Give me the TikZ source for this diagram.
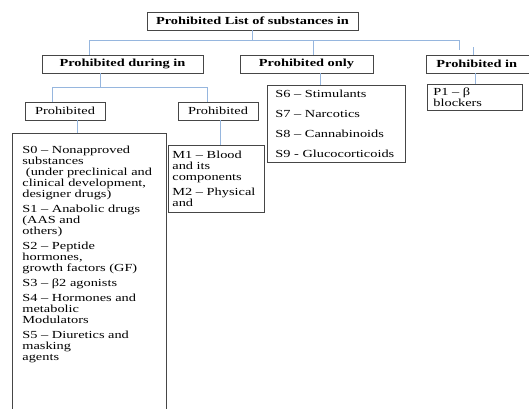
\documentclass[tikz,border=0pt]{standalone}
\usepackage{fontspec}
\setmainfont[FakeStretch=1.33]{Liberation Serif}
\usetikzlibrary{positioning}
\definecolor{boxgray}{RGB}{70,70,70}
\definecolor{linkblue}{RGB}{150,182,222}
\tikzset{
  box/.style={draw=boxgray, line width=0.8pt, inner sep=0pt, minimum height=18pt},
  head/.style={box, font=\fontsize{10.8}{11}\selectfont\bfseries},
  sub/.style={box, font=\fontsize{10.8}{11}\selectfont},
  list/.style={draw=boxgray, line width=0.8pt, anchor=north west, align=left,
    font=\fontsize{10.8}{11}\selectfont, inner xsep=6pt, inner ysep=0pt},
  link/.style={draw=linkblue, line width=0.9pt}
}

\begin{document}
\begin{tikzpicture}[x=1pt,y=-1pt]
\useasboundingbox (0,0) rectangle (529,408);
% headings
\node[head, minimum width=211pt] (top) at (252.5,21) {Prohibited List of substances in};
\node[head, minimum width=161pt] (during) at (122.5,64) {Prohibited during in};
\node[head, minimum width=133pt] (only) at (306.5,64) {Prohibited only};
\node[head, anchor=west, text width=100pt, align=left, inner xsep=10pt] (in) at (426,64) {Prohibited in};
\node[sub, minimum width=80pt] (pleft) at (65,111) {Prohibited};
\node[sub, minimum width=80pt] (pright) at (218,111) {Prohibited};
% lists
\node[list, inner xsep=10pt, inner ysep=13pt] (s0) at (12,133) {\parbox[t][280pt][t]{134pt}{\raggedright
S0 – Nonapproved\\
substances\\
\ (under preclinical and\\
clinical development,\\
designer drugs)\\[4pt]
S1 – Anabolic drugs\\
(AAS and\\
others)\\[4pt]
S2 – Peptide\\
hormones,\\
growth factors (GF)\\[4pt]
S3 – β2 agonists\\[4pt]
S4 – Hormones and\\
metabolic\\
Modulators\\[4pt]
S5 – Diuretics and\\
masking\\
agents}};
\node[list, inner xsep=4pt, text width=88pt, minimum height=67pt] (m) at (168,145) {M1 – Blood\\
and its\\
components\\[4pt]
M2 – Physical\\
and};
\node[list, inner xsep=8pt, text width=122pt, minimum height=77pt] (s6) at (267,85) {S6 – Stimulants\\[9pt]
S7 – Narcotics\\[9pt]
S8 – Cannabinoids\\[9pt]
S9 - Glucocorticoids};
\node[list, inner xsep=6pt, text width=83pt, minimum height=26pt] (p1) at (427,84) {P1 – β\\
blockers};
% connectors
\coordinate (bar1l) at (89,40);
\coordinate (bar1r) at (459,40);
\coordinate (gapend) at (459,50);
\coordinate (stub) at (473,47);
\draw[link] (top.south) -- (top.south |- bar1l);
\draw[link] (bar1l) -- (bar1r);
\draw[link] (bar1l) -- (bar1l |- during.north);
\draw[link] ([xshift=7pt]only.north |- bar1l) -- ([xshift=7pt]only.north);
\draw[link] (bar1r) -- (gapend);
\draw[link] (stub) -- (stub |- in.north);
\coordinate (bar2l) at (52,87);
\coordinate (bar2r) at (207,87);
\draw[link] ([xshift=-22.5pt]during.south) -- ([xshift=-22.5pt]during.south |- bar2l);
\draw[link] (bar2l) -- (bar2r);
\draw[link] (bar2l) -- (bar2l |- pleft.north);
\draw[link] (bar2r) -- (bar2r |- pright.north);
\draw[link] ([xshift=12pt]pleft.south) -- ([xshift=12pt]pleft.south |- s0.north);
\draw[link] ([xshift=2pt]pright.south) -- ([xshift=2pt]pright.south |- m.north);
\draw[link] ([xshift=14pt]only.south) -- ([xshift=14pt]only.south |- s6.north);
\draw[link] ([xshift=-11pt]in.south) -- ([xshift=-11pt]in.south |- p1.north);
%\draw[help lines] (0,0) grid (529,408);
\end{tikzpicture}
\end{document}
